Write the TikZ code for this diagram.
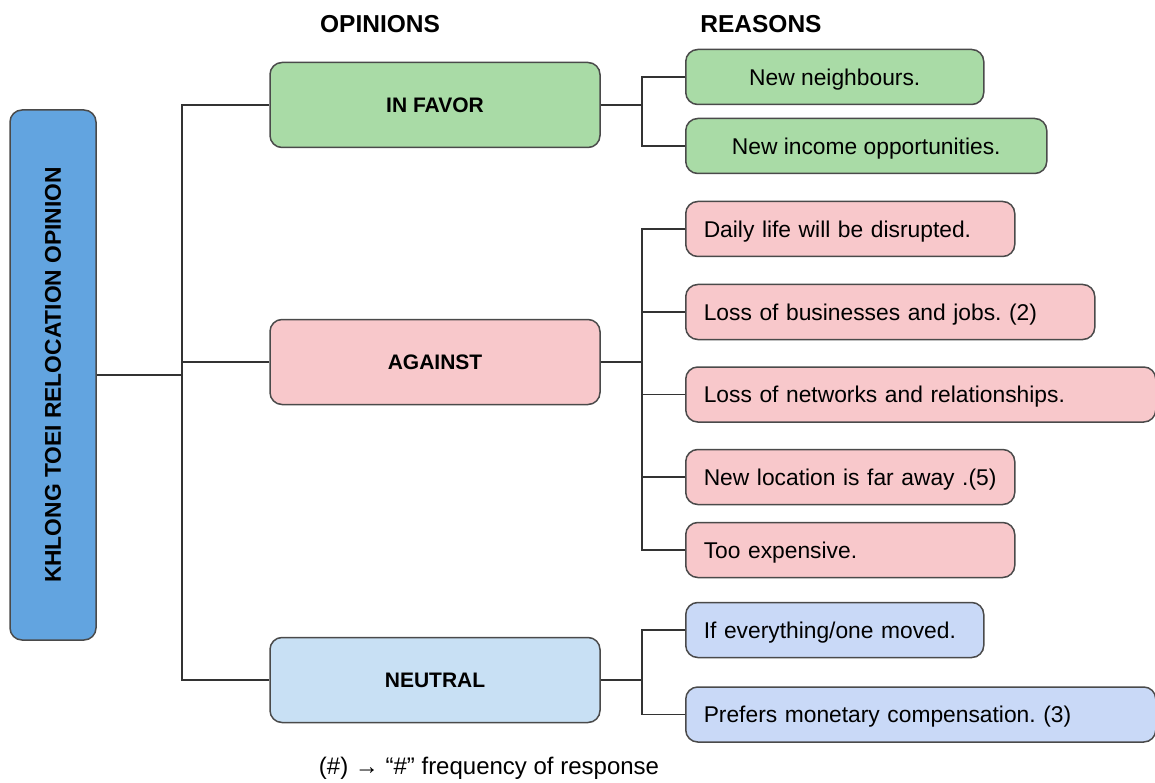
\documentclass[tikz,border=0pt]{standalone}
\usepackage{fontspec}
\usepackage{graphicx}
\setmainfont{Liberation Sans}
\frenchspacing
\definecolor{kblue}{HTML}{62A4E0}
\definecolor{fgreen}{HTML}{A9DBA6}
\definecolor{apink}{HTML}{F8C8CB}
\definecolor{nblue}{HTML}{C8E0F4}
\definecolor{rblue}{HTML}{C9D9F7}
\definecolor{edge}{HTML}{4A4A4A}
\definecolor{wire}{HTML}{333333}
\tikzset{
  box/.style={draw=edge, line width=1.5pt, rounded corners=12pt, inner sep=0pt},
  opbox/.style={box, minimum width=330, minimum height=85, font=\fontsize{21}{25}\selectfont\bfseries},
  rsn/.style={box, anchor=west, minimum height=55, text height=16.3pt, text depth=0pt, font=\fontsize{22.8}{27}\selectfont},
  rsnl/.style={rsn, text width=#1, align=left, inner xsep=18pt},
  hdr/.style={font=\fontsize{24.5}{29}\selectfont\bfseries},
  wire/.style={draw=wire, line width=1.4pt},
}
\begin{document}
\begin{tikzpicture}[x=1pt,y=-1pt]
\useasboundingbox (0,0) rectangle (1155,783);
% headers
\node[hdr] (h1) at (380,24) {OPINIONS};
\node[hdr] (h2) at (761,24) {REASONS};
% main box
\node[box, fill=kblue, minimum width=86, minimum height=530, font=\fontsize{22.8}{27}\selectfont\bfseries] (kt) at (53,375) {\rotatebox{90}{KHLONG TOEI RELOCATION OPINION}};
% opinions
\node[opbox, fill=fgreen] (fav) at (435,105) {IN FAVOR};
\node[opbox, fill=apink] (aga) at (435,362) {AGAINST};
\node[opbox, fill=nblue] (neu) at (435,680) {NEUTRAL};
% reasons
\node[rsn, fill=fgreen, minimum width=298] (r1) at (685,77) {New neighbours.};
\node[rsn, fill=fgreen, minimum width=361] (r2) at (685,146) {New income opportunities.};
\node[rsnl=293, fill=apink] (r3) at (685,229) {\mbox{Daily life will be disrupted.}};
\node[rsnl=373, fill=apink] (r4) at (685,312) {\mbox{Loss of businesses and jobs. (2)}};
\node[rsnl=434, fill=apink] (r5) at (685,394.5) {\mbox{Loss of networks and relationships.}};
\node[rsnl=293, fill=apink] (r6) at (685,477) {\mbox{New location is far away .(5)}};
\node[rsnl=293, fill=apink] (r7) at (685,550) {\mbox{Too expensive.}};
\node[rsnl=262, fill=rblue] (r8) at (685,630) {\mbox{If everything/one moved.}};
\node[rsnl=434, fill=rblue] (r9) at (685,714.5) {\mbox{Prefers monetary compensation. (3)}};
% legend
\node[font=\fontsize{24}{28}\selectfont] (leg) at (489,768) {(\#) → “\#” frequency of response};
% trunk
\coordinate (tx) at (182,0);
\coordinate (bx) at (642,0);
\draw[wire] (kt.east) -- (kt.east -| tx);
\draw[wire] (fav.west) -- (fav.west -| tx) -- (neu.west -| tx) -- (neu.west);
\draw[wire] (aga.west -| tx) -- (aga.west);
% favor branch
\draw[wire] (fav.east) -- (fav.east -| bx);
\draw[wire] (r1.west) -- (r1.west -| bx) -- (r2.west -| bx) -- (r2.west);
% against branch
\draw[wire] (aga.east) -- (aga.east -| bx);
\draw[wire] (r3.west) -- (r3.west -| bx) -- (r7.west -| bx) -- (r7.west);
\draw[wire] (r4.west -| bx) -- (r4.west);
\draw[wire] (r5.west -| bx) -- (r5.west);
\draw[wire] (r6.west -| bx) -- (r6.west);
% neutral branch
\draw[wire] (neu.east) -- (neu.east -| bx);
\draw[wire] (r8.west) -- (r8.west -| bx) -- (r9.west -| bx) -- (r9.west);
\end{tikzpicture}
\end{document}
